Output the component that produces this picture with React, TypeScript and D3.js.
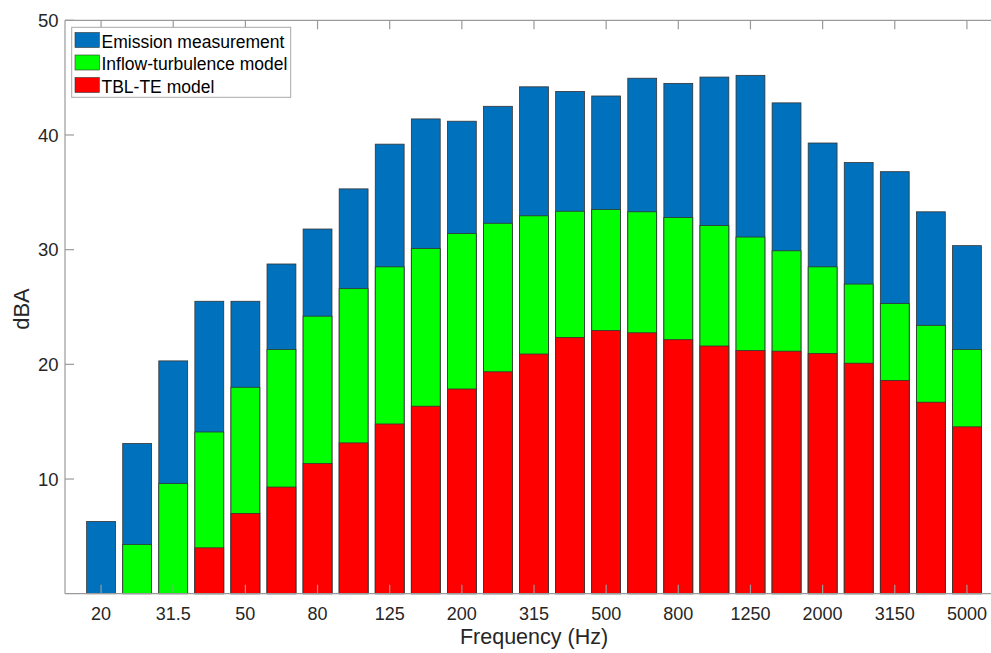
import React from "react";
import * as d3 from "d3";

const categories = ["20","25","31.5","40","50","63","80","100","125","160","200","250","315","400","500","630","800","1000","1250","1600","2000","2500","3150","4000","5000"];
const emission = [6.3,13.1,20.3,25.5,25.5,28.75,31.8,35.3,39.2,41.4,41.2,42.5,44.2,43.8,43.4,44.95,44.5,45.05,45.2,42.8,39.3,37.6,36.8,33.3,30.35];
const inflow = [0,4.3,9.6,14.1,18.0,21.3,24.2,26.6,28.5,30.1,31.4,32.3,32.95,33.35,33.5,33.3,32.8,32.1,31.1,29.9,28.5,27.0,25.3,23.4,21.3];
const tblte = [0,0,0,4.0,7.0,9.3,11.35,13.15,14.8,16.35,17.85,19.35,20.9,22.35,22.95,22.75,22.15,21.6,21.2,21.15,20.95,20.1,18.6,16.7,14.55];
const yTicks = [10,20,30,40,50];
const xTickLabels = ["20","31.5","50","80","125","200","315","500","800","1250","2000","3150","5000"];
const seriesNames = ["Emission measurement","Inflow-turbulence model","TBL-TE model"];
const seriesColors = ["#0072BD","#00FF00","#FF0000"];

export default function App() {
  const W = 991, H = 653;
  const left = 65, right = 1003, top = 20.3, bottom = 593.7;
  const x = d3.scaleLinear().domain([-1, categories.length]).range([left, right]);
  const y = d3.scaleLinear().domain([0, 50]).range([bottom, top]);
  const bw = (x(1) - x(0)) * 0.8;
  const axisColor = "#9a9a9a";
  const textColor = "#262626";
  const font = "'Liberation Sans', Arial, Helvetica, sans-serif";
  const series = [emission, inflow, tblte];
  const tickLen = 9;

  return (
    <svg width={W} height={H} style={{ position: "absolute", left: 0, top: 0, background: "#fff" }} fontFamily={font}>
      <rect x={0} y={0} width={W} height={H} fill="#fff" />
      {series.map((vals, si) => (
        <g key={si}>
          {vals.map((v, i) =>
            v > 0 ? (
              <rect
                key={i}
                x={x(i) - bw / 2}
                y={y(v)}
                width={bw}
                height={y(0) - y(v)}
                fill={seriesColors[si]}
                stroke="#333"
                strokeWidth={0.8}
              />
            ) : null
          )}
        </g>
      ))}
      {/* axes box */}
      <line x1={left} x2={right} y1={bottom} y2={bottom} stroke={axisColor} strokeWidth={1.2} />
      <line x1={left} x2={right} y1={top} y2={top} stroke={axisColor} strokeWidth={1.2} />
      <line x1={left} x2={left} y1={top} y2={bottom} stroke={axisColor} strokeWidth={1.2} />
      <line x1={right} x2={right} y1={top} y2={bottom} stroke={axisColor} strokeWidth={1.2} />
      {/* x ticks */}
      {xTickLabels.map((lab) => {
        const i = categories.indexOf(lab);
        const xx = x(i);
        return (
          <g key={lab}>
            <line x1={xx} x2={xx} y1={bottom} y2={bottom - tickLen} stroke={axisColor} strokeWidth={1.2} />
            <line x1={xx} x2={xx} y1={top} y2={top + tickLen} stroke={axisColor} strokeWidth={1.2} />
            <text x={xx} y={620} textAnchor="middle" fontSize={18} fill={textColor}>{lab}</text>
          </g>
        );
      })}
      {/* y ticks */}
      {yTicks.map((t) => (
        <g key={t}>
          <line x1={left} x2={left + tickLen} y1={y(t)} y2={y(t)} stroke={axisColor} strokeWidth={1.2} />
          <line x1={right} x2={right - tickLen} y1={y(t)} y2={y(t)} stroke={axisColor} strokeWidth={1.2} />
          <text x={58.5} y={y(t)} dy="0.36em" textAnchor="end" fontSize={18.5} fill={textColor}>{t}</text>
        </g>
      ))}
      <text x={(left + right) / 2} y={644} textAnchor="middle" fontSize={21.5} fill={textColor}>Frequency (Hz)</text>
      <text transform={`translate(28.5,309) rotate(-90)`} textAnchor="middle" fontSize={22} fill={textColor}>dBA</text>
      {/* legend */}
      <rect x={71.7} y={27.3} width={219} height={70} fill="#fff" stroke="#a8a8a8" strokeWidth={1} />
      {seriesNames.map((n, i) => (
        <g key={n}>
          <rect x={75} y={32.5 + i * 22.5} width={24.3} height={15} fill={seriesColors[i]} stroke="#333" strokeWidth={0.6} />
          <text x={101.5} y={47.5 + i * 22.5} fontSize={17.5} fill="#000">{n}</text>
        </g>
      ))}
    </svg>
  );
}
